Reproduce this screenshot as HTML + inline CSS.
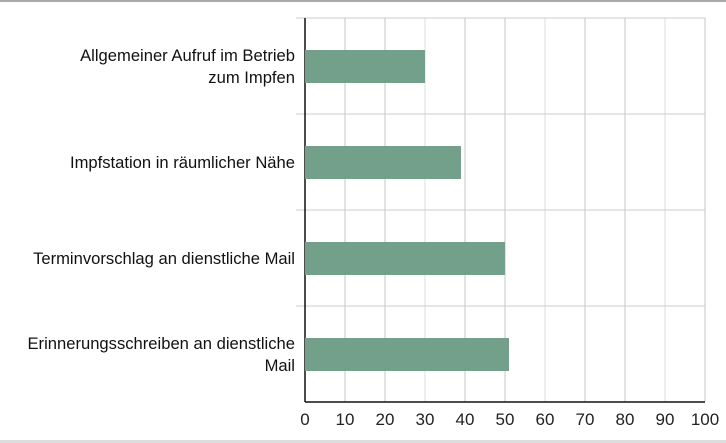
<!DOCTYPE html>
<html><head><meta charset="utf-8"><style>
body{margin:0;background:#fff}
svg{display:block;font-family:"Liberation Sans",sans-serif}
</style></head><body>
<svg id="c" width="726" height="443">
<rect x="0" y="0" width="726" height="2" fill="#aaa"/>
<rect x="0" y="440" width="726" height="3" fill="#ddd"/>
<g id="grid"></g><g id="bars"></g><g id="labels"></g><g id="ticks"></g>
</svg>
<script>
const categories=[["Allgemeiner Aufruf im Betrieb","zum Impfen"],["Impfstation in räumlicher Nähe"],["Terminvorschlag an dienstliche Mail"],["Erinnerungsschreiben an dienstliche","Mail"]];
const values=[30,39,50,51];
const tickLabels=[0,10,20,30,40,50,60,70,80,90,100];
const NS="http://www.w3.org/2000/svg";
const x0=305,x1=705,y0=18,y1=402;
const xs=v=>x0+(v-0)/(100)*(x1-x0);
const band=(y1-y0)/categories.length;
function mk(tag,attrs,parent){const e=document.createElementNS(NS,tag);for(const k in attrs)e.setAttribute(k,attrs[k]);document.getElementById(parent).appendChild(e);return e;}
tickLabels.forEach((t,i)=>{
 if(t>0){const g=mk('line',{x1:xs(t),x2:xs(t),y1:y0,y2:y1,stroke:i%3===0?'#ddd':'#c4c4c4','stroke-width':1},'grid');
 
 }
 const tl=mk('text',{x:xs(t),y:y1+23,'text-anchor':'middle','font-size':17,fill:'#222'},'ticks');tl.textContent=t;
 
 
});
for(let i=0;i<=categories.length;i++){
 const y=y0+i*band;
 if(i<categories.length){const l=mk('line',{x1:296,x2:x1,y1:y,y2:y,stroke:'#ccc','stroke-width':1},'grid');
 
 }
}
const ax=mk('line',{x1:x0,x2:x0,y1:y0,y2:y1,stroke:'#111','stroke-width':1.5},'grid');


const bx=mk('line',{x1:x0,x2:x1,y1:y1,y2:y1,stroke:'#111','stroke-width':1.5},'grid');


categories.forEach((c,i)=>{
 const cy=y0+band*(i+0.5);
 const b=mk('rect',{x:xs(0),y:cy-16,width:xs(values[i])-xs(0),height:33,fill:'#73a08a'},'bars');
 
 
 const t=mk('text',{'text-anchor':'end','font-size':16.6,fill:'#111'},'labels');
 
 
 c.forEach((line,j)=>{const ts=document.createElementNS(NS,'tspan');ts.setAttribute('x',295);ts.setAttribute('y',cy+6+(j-(c.length-1)/2)*22);ts.textContent=line;t.appendChild(ts);});
});
</script>
</body></html>
